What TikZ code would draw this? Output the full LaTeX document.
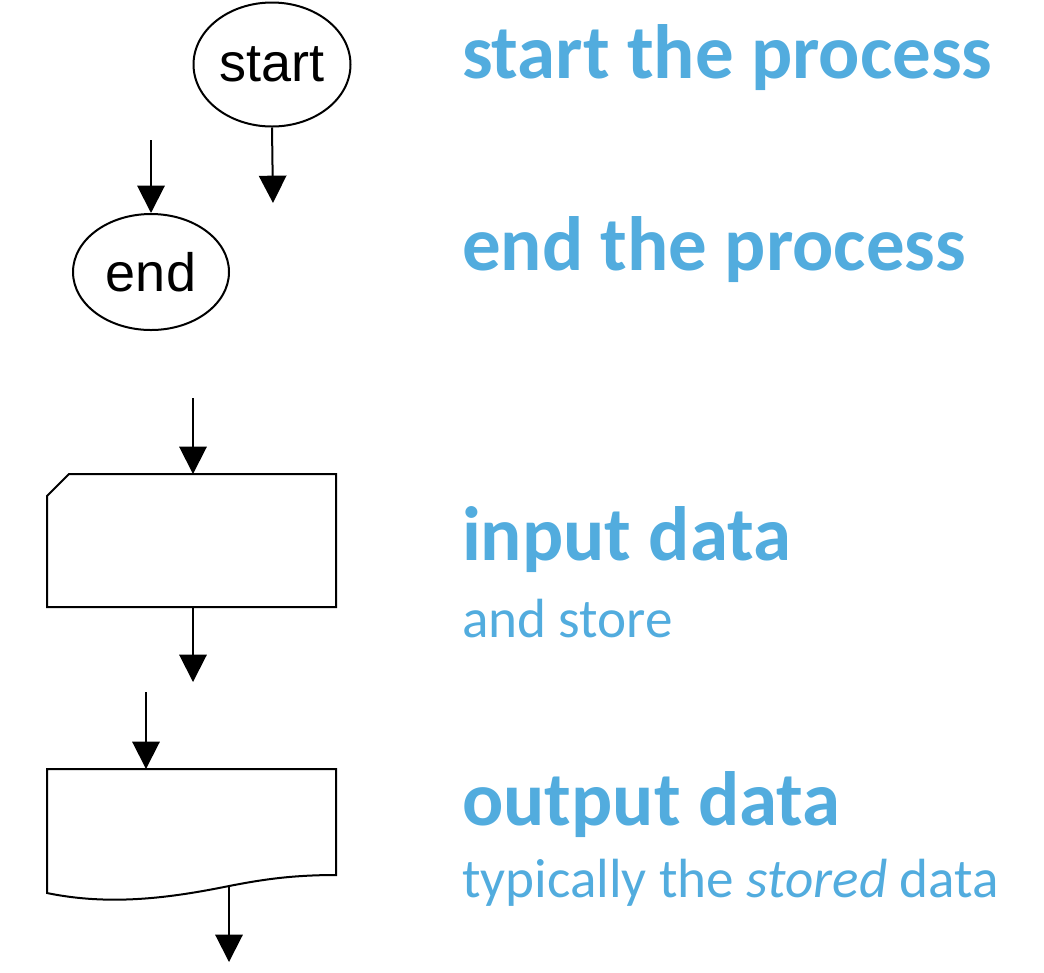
\documentclass[tikz,border=0pt]{standalone}
\usepackage{fontspec}
\setmainfont{Carlito}
\newfontfamily\arialf{Liberation Sans}
\usetikzlibrary{shapes.geometric,arrows.meta}
\definecolor{hblue}{HTML}{52ACDE}
\begin{document}
\begin{tikzpicture}[x=0.75pt,y=-0.75pt, line width=1.5pt,
 term/.style={ellipse,draw,inner sep=0pt,font=\arialf\fontsize{40.5}{48}\selectfont},
 arr/.style={-{Triangle[length=20.5pt,width=20.5pt]}},
 head/.style={anchor=base west,text=hblue,inner sep=0pt,font=\bfseries\fontsize{57.7}{68}\selectfont},
 sub/.style={anchor=base west,text=hblue,inner sep=0pt,font=\fontsize{41.4}{48}\selectfont}]
\useasboundingbox (0,0) rectangle (1044,972);
% terminals
\node[term,minimum width=117.75pt,minimum height=93pt] (start) at (272,64.5) {start};
\node[term,minimum width=117pt,minimum height=87pt] (end) at (151,272) {end};
\coordinate (s1) at (273,203);
\draw[arr] (start.south) -- (s1);
\coordinate (e0) at (151,140);
\draw[arr] (e0) -- (end.north);
% input shape
\coordinate (inTop) at (193,474);
\coordinate (inBot) at (193,607);
\draw[line join=miter] (69,474) -- (336,474) -- (336,607) -- (47,607) -- (47,496) -- cycle;
\coordinate (i0) at (193,398);
\coordinate (i1) at (193,682);
\draw[arr] (i0) -- (inTop);
\draw[arr] (inBot) -- (i1);
% output shape
\coordinate (outTop) at (146,769);
\coordinate (outBot) at (229,886);
\draw[line join=miter] (47,769) -- (336,769) -- (336,875)
  .. controls (290,875) and (260,880) .. (229,886)
  .. controls (170,898) and (110,906) .. (47,893) -- cycle;
\coordinate (o0) at (146,692);
\coordinate (o1) at (229,962);
\draw[arr] (o0) -- (outTop);
\draw[arr] (outBot) -- (o1);
% labels
\node[head] (t1) at (461,78) {start the process};
\node[head] (t2) at (461,270) {end the process};
\node[head] (t3) at (461,560) {input data};
\node[sub] (t4) at (461,637) {and store};
\node[head] (t5) at (461,825) {output data};
\node[sub] (t6) at (461,897) {typically the \textit{stored} data};
\end{tikzpicture}
\end{document}
